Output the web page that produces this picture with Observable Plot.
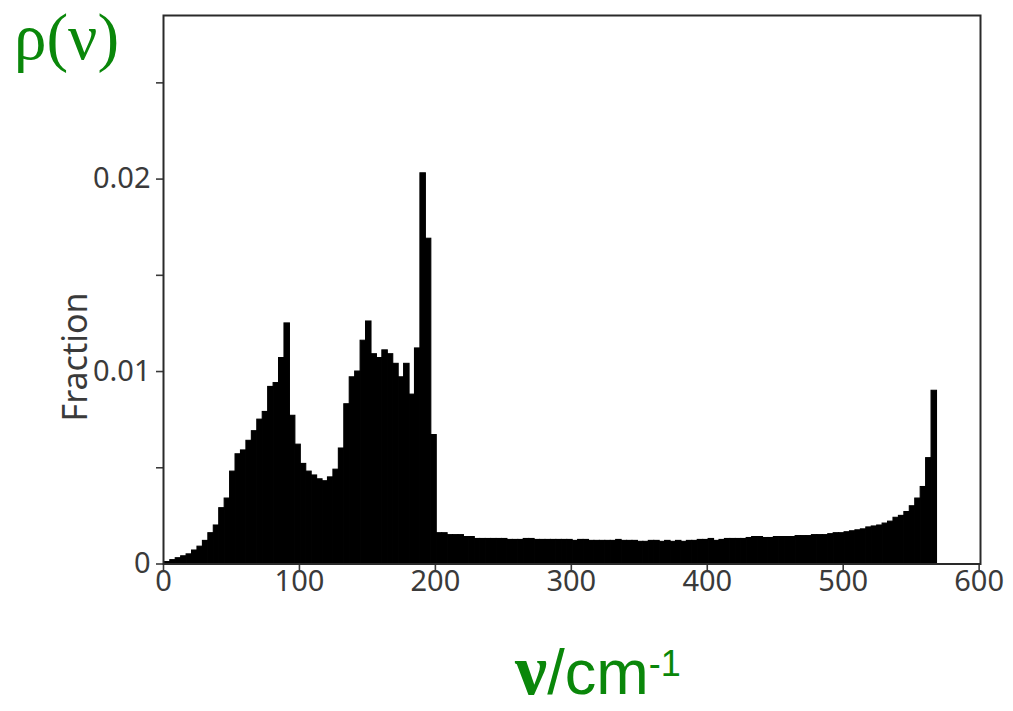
<!DOCTYPE html>
<html><head><meta charset="utf-8">
<script src="https://cdn.jsdelivr.net/npm/d3@7"></script>
<script src="https://cdn.jsdelivr.net/npm/@observablehq/plot@0.6"></script>
<style>
html,body{margin:0;padding:0;background:#fff;}
#wrap{position:relative;width:1013px;height:711px;overflow:hidden;background:#fff;}
#chart{position:absolute;left:0;top:0;}
#over{position:absolute;left:0;top:0;pointer-events:none;}
</style></head><body>
<div id="wrap"><div id="chart"></div>
<svg id="over" width="1013" height="711" xmlns="http://www.w3.org/2000/svg">
  <text x="14" y="59" font-family="Liberation Serif" font-size="65" fill="#0a870a">ρ(ν)</text>
  <text id="ylab" transform="translate(87,357) rotate(-90)" text-anchor="middle" font-family="Noto Sans" font-size="34" fill="#3a3a3a"></text>
  <text x="515" y="694" fill="#0a870a"><tspan font-family="Liberation Serif" font-weight="bold" font-size="72">ν</tspan><tspan font-family="Liberation Sans" font-size="63">/cm</tspan><tspan font-family="Liberation Sans" font-size="36" dy="-18">-1</tspan></text>
</svg>
</div>
<script>
// wavenumber bins (cm-1): start and width
const binStart = 1;
const binWidth = 4;
// fraction per bin, 1–201 cm-1
const fracLow = [
  0.0001, 0.0002, 0.0003, 0.0004, 0.0005, 0.0007, 0.0009, 0.0012, 0.0016, 0.0020,
  0.0029, 0.0034, 0.0048, 0.0057, 0.0059, 0.0064, 0.0069, 0.0075, 0.0079, 0.0092,
  0.0094, 0.0107, 0.0125, 0.0077, 0.0062, 0.0052, 0.0048, 0.0046, 0.0044, 0.0043,
  0.0045, 0.0049, 0.0060, 0.0083, 0.0097, 0.0100, 0.0116, 0.0126, 0.0109, 0.0107,
  0.0111, 0.0109, 0.0104, 0.0097, 0.0104, 0.0088, 0.0112, 0.0203, 0.0169, 0.0067
];
// fraction per bin, 201–569 cm-1
const fracTail = [
  0.0016, 0.0016, 0.0015, 0.0015, 0.0015, 0.0014, 0.0014, 0.0013, 0.0013, 0.0013,
  0.0013, 0.0013, 0.0013, 0.00125, 0.00125, 0.00125, 0.0013, 0.0013, 0.00125, 0.00125,
  0.00125, 0.00125, 0.00125, 0.00125, 0.00125, 0.0012, 0.00125, 0.00125, 0.0012, 0.0012,
  0.0012, 0.0012, 0.0012, 0.00125, 0.0012, 0.0012, 0.0012, 0.00115, 0.00115, 0.0012,
  0.0012, 0.00115, 0.0012, 0.00115, 0.0012, 0.00115, 0.0012, 0.0012, 0.00125, 0.00125,
  0.0013, 0.0012, 0.00125, 0.0013, 0.0013, 0.0013, 0.0013, 0.00135, 0.0014, 0.0014,
  0.00135, 0.00135, 0.0014, 0.0014, 0.0014, 0.0014, 0.00145, 0.00145, 0.00145, 0.0015,
  0.0015, 0.0015, 0.00155, 0.0016, 0.0016, 0.00165, 0.0017, 0.00175, 0.0018, 0.0019,
  0.00195, 0.0020, 0.0021, 0.0022, 0.0024, 0.0025, 0.0027, 0.0030, 0.0034, 0.0040,
  0.0055, 0.0090
];
const xTicks = [0, 100, 200, 300, 400, 500, 600];
const yTicks = [0, 0.005, 0.01, 0.015, 0.02, 0.025];
const yTickLabels = {"0": "0", "0.01": "0.01", "0.02": "0.02"};
const yLabel = "Fraction";

document.getElementById("ylab").textContent = yLabel;

const fractions = fracLow.concat(fracTail);
const bins = fractions.map((f, i) => ({
  x1: binStart + i * binWidth,
  x2: binStart + (i + 1) * binWidth,
  f
}));

const chart = Plot.plot({
  width: 1013,
  height: 711,
  marginLeft: 163,
  marginRight: 33,
  marginTop: 15,
  marginBottom: 147.5,
  x: {domain: [0, 601]},
  y: {domain: [0, 0.0285]},
  style: {fontFamily: "Noto Sans", fontSize: "29px", color: "#3a3a3a", background: "transparent"},
  marks: [
    Plot.rectY(bins, {x1: "x1", x2: "x2", y: "f", fill: "#000", stroke: "#000", strokeWidth: 1.1}),
    Plot.axisX({ticks: xTicks, tickSize: 7, tickPadding: -1, tickFormat: d => String(d), stroke: "#3a3a3a", strokeWidth: 1.6, label: null, fontSize: 29}),
    Plot.axisY({ticks: yTicks, tickSize: 7, tickPadding: 6, tickFormat: d => yTickLabels[String(d)] ?? "", stroke: "#3a3a3a", strokeWidth: 1.6, label: null, fontSize: 29}),
    Plot.frame({stroke: "#2a2a2a", strokeWidth: 2})
  ]
});
document.getElementById("chart").appendChild(chart);
</script>
</body></html>
